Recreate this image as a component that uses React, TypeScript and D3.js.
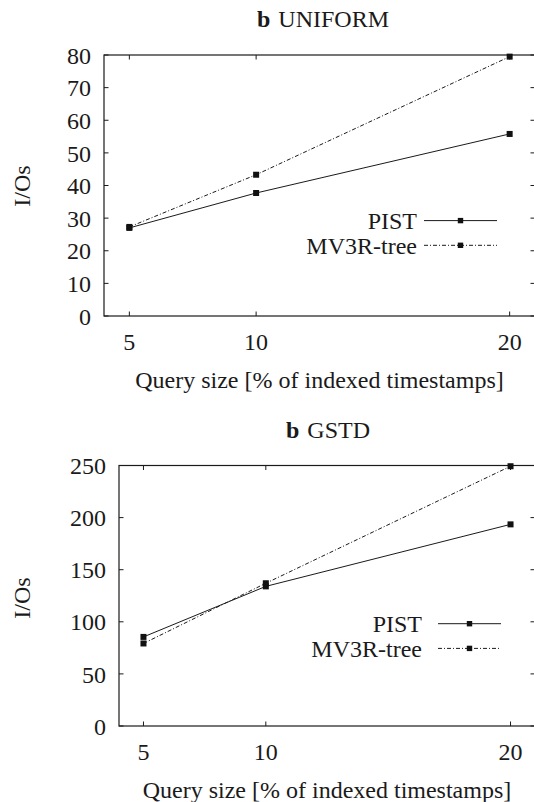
import React from "react";
import * as d3 from "d3";

const querySizes = [5, 10, 20];
const xTicks = [5, 10, 20];

const uniformPIST = [27, 37.7, 55.8];
const uniformMV3R = [27.3, 43.3, 79.5];
const uniformYTicks = [0, 10, 20, 30, 40, 50, 60, 70, 80];

const gstdPIST = [85.5, 134, 193.5];
const gstdMV3R = [79.2, 137, 249.3];
const gstdYTicks = [0, 50, 100, 150, 200, 250];

const seriesNames = ["PIST", "MV3R-tree"];

const FONT = "'Liberation Serif', 'Times New Roman', serif";
const INK = "#1a1a1a";
const DASH = "4,2,1,2";

type PanelProps = {
  title: string;
  left: number;
  right: number;
  top: number;
  bottom: number;
  yMax: number;
  yTicks: number[];
  pist: number[];
  mv3r: number[];
  legendTextX: number;
  legendLineX0: number;
  legendLineX1: number;
  legendY0: number;
  titleX: number;
  titleY: number;
  yLabelY: number;
};

function Panel(p: PanelProps) {
  const x = d3.scaleLinear().domain([4, 21]).range([p.left, p.right]);
  const y = d3.scaleLinear().domain([0, p.yMax]).range([p.bottom, p.top]);
  const line = d3
    .line<number>()
    .x((_, i) => x(querySizes[i]))
    .y((v) => y(v));
  const tl = 4.5;
  const ms = 6;
  const series = [
    { name: seriesNames[0], vals: p.pist, dash: undefined as string | undefined },
    { name: seriesNames[1], vals: p.mv3r, dash: DASH },
  ];
  return (
    <g>
      <text
        x={p.titleX}
        y={p.titleY}
        textAnchor="middle"
        fontFamily={FONT}
        fontSize={24}
        fill={INK}
      >
        <tspan fontWeight="bold">b</tspan>
        <tspan dx={8}>{p.title}</tspan>
      </text>
      {/* frame */}
      <rect
        x={p.left}
        y={p.top}
        width={p.right - p.left}
        height={p.bottom - p.top}
        fill="none"
        stroke={INK}
        strokeWidth={1.2}
      />
      {/* y ticks */}
      {p.yTicks.map((t) => (
        <g key={"y" + t}>
          <line x1={p.left} x2={p.left + tl} y1={y(t)} y2={y(t)} stroke={INK} strokeWidth={1} />
          <line x1={p.right} x2={p.right - tl} y1={y(t)} y2={y(t)} stroke={INK} strokeWidth={1} />
          <text
            x={p.left - 13}
            y={y(t)}
            dy="0.36em"
            textAnchor="end"
            fontFamily={FONT}
            fontSize={24}
            fill={INK}
          >
            {t}
          </text>
        </g>
      ))}
      {/* x ticks */}
      {xTicks.map((t) => (
        <g key={"x" + t}>
          <line x1={x(t)} x2={x(t)} y1={p.bottom} y2={p.bottom - tl} stroke={INK} strokeWidth={1} />
          <line x1={x(t)} x2={x(t)} y1={p.top} y2={p.top + tl} stroke={INK} strokeWidth={1} />
          <text
            x={x(t)}
            y={p.bottom + 34}
            textAnchor="middle"
            fontFamily={FONT}
            fontSize={24}
            fill={INK}
          >
            {t}
          </text>
        </g>
      ))}
      <text
        x={(p.left + 535 + 0) / 2 + (p.left === 104 ? 0 : 0)}
        y={p.bottom + 72}
        textAnchor="middle"
        fontFamily={FONT}
        fontSize={24}
        fill={INK}
      >
        Query size [% of indexed timestamps]
      </text>
      <text
        transform={`translate(30,${p.yLabelY}) rotate(-90)`}
        textAnchor="middle"
        fontFamily={FONT}
        fontSize={24}
        fill={INK}
      >
        I/Os
      </text>
      {/* data */}
      {series.map((s) => (
        <g key={s.name}>
          <path
            d={line(s.vals) || ""}
            fill="none"
            stroke={INK}
            strokeWidth={1}
            strokeDasharray={s.dash}
          />
          {s.vals.map((v, i) => (
            <rect
              key={i}
              x={x(querySizes[i]) - ms / 2}
              y={y(v) - ms / 2}
              width={ms}
              height={ms}
              fill="#111"
            />
          ))}
        </g>
      ))}
      {/* legend */}
      {series.map((s, i) => {
        const ly = p.legendY0 + i * 24.7;
        const mx = (p.legendLineX0 + p.legendLineX1) / 2;
        return (
          <g key={"lg" + s.name}>
            <text
              x={p.legendTextX}
              y={ly}
              dy="0.36em"
              textAnchor="end"
              fontFamily={FONT}
              fontSize={24}
              fill={INK}
            >
              {s.name}
            </text>
            <line
              x1={p.legendLineX0}
              x2={p.legendLineX1}
              y1={ly}
              y2={ly}
              stroke={INK}
              strokeWidth={1}
              strokeDasharray={s.dash}
            />
            <rect x={mx - 2.7} y={ly - 2.7} width={5.4} height={5.4} fill="#111" />
          </g>
        );
      })}
    </g>
  );
}

export default function App() {
  return (
    <svg
      width={534}
      height={802}
      style={{ position: "absolute", left: 0, top: 0, background: "#fff" }}
    >
      <rect x={0} y={0} width={534} height={802} fill="#fff" />
      <Panel
        title="UNIFORM"
        left={104}
        right={535}
        top={55}
        bottom={316}
        yMax={80}
        yTicks={uniformYTicks}
        pist={uniformPIST}
        mv3r={uniformMV3R}
        legendTextX={417}
        legendLineX0={424}
        legendLineX1={497}
        legendY0={220.6}
        titleX={323}
        titleY={27}
        yLabelY={186}
      />
      <Panel
        title="GSTD"
        left={119}
        right={535}
        top={465.5}
        bottom={726}
        yMax={250}
        yTicks={gstdYTicks}
        pist={gstdPIST}
        mv3r={gstdMV3R}
        legendTextX={422}
        legendLineX0={438}
        legendLineX1={501}
        legendY0={623.7}
        titleX={328}
        titleY={437.5}
        yLabelY={598}
      />
    </svg>
  );
}
